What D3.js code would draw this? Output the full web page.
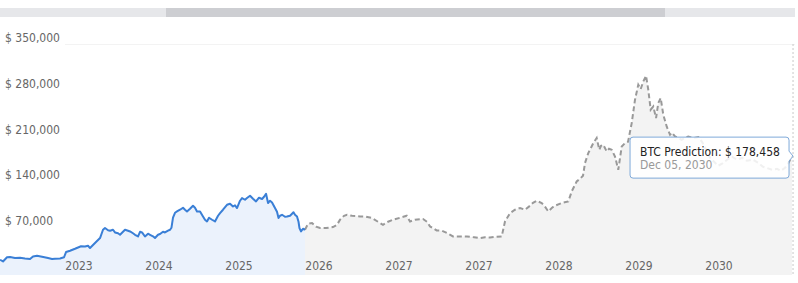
<!DOCTYPE html>
<html>
<head>
<meta charset="utf-8">
<script src="https://cdn.jsdelivr.net/npm/d3@7"></script>
<style>
  html, body { margin: 0; padding: 0; background: #fff; }
  svg { display: block; font-family: Tahoma, "DejaVu Sans Condensed", "DejaVu Sans", sans-serif; font-stretch: condensed; }
</style>
</head>
<body>
<svg id="chart" width="798" height="283"></svg>
<script>
// price history (decimal year, USD)
var histYears = [
  2022.013, 2022.050, 2022.100, 2022.138, 2022.200, 2022.263, 2022.325, 2022.388, 2022.425, 2022.475,
  2022.538, 2022.613, 2022.663, 2022.700, 2022.763, 2022.813, 2022.838, 2022.888, 2022.950, 2022.988,
  2023.025, 2023.075, 2023.113, 2023.138, 2023.200, 2023.263, 2023.300, 2023.325, 2023.363, 2023.388,
  2023.425, 2023.450, 2023.488, 2023.513, 2023.550, 2023.575, 2023.613, 2023.638, 2023.675, 2023.700,
  2023.738, 2023.763, 2023.788, 2023.825, 2023.863, 2023.888, 2023.925, 2023.950, 2023.988, 2024.013,
  2024.050, 2024.075, 2024.113, 2024.138, 2024.156, 2024.175, 2024.200, 2024.225, 2024.263, 2024.300,
  2024.325, 2024.350, 2024.388, 2024.425, 2024.450, 2024.475, 2024.513, 2024.550, 2024.575, 2024.600,
  2024.625, 2024.663, 2024.700, 2024.738, 2024.763, 2024.800, 2024.850, 2024.888, 2024.925, 2024.950,
  2024.975, 2025.013, 2025.038, 2025.075, 2025.100, 2025.138, 2025.175, 2025.213, 2025.250, 2025.288,
  2025.313, 2025.338, 2025.363, 2025.388, 2025.413, 2025.450, 2025.475, 2025.494, 2025.513, 2025.538,
  2025.575, 2025.600, 2025.638, 2025.663, 2025.681, 2025.700, 2025.725, 2025.744, 2025.756, 2025.775,
  2025.800, 2025.825
]
var histPrices = [
  19900, 17300, 23700, 24000, 22500, 23000, 21900, 21000, 24900, 26000,
  24500, 22500, 21100, 21400, 21900, 23700, 31700, 33700, 36700, 38700,
  40500, 40200, 41300, 37800, 45400, 53100, 65800, 68400, 65000, 64300,
  65800, 61700, 60400, 58100, 62700, 65800, 64300, 63200, 60400, 58100,
  55500, 62700, 61700, 55500, 59700, 58100, 55800, 53100, 58100, 59200,
  62700, 61700, 64300, 65800, 68900, 84200, 91800, 93800, 96400, 99500,
  96400, 93800, 97900, 102500, 99500, 93800, 93800, 86100, 81100, 78500,
  84200, 81100, 78500, 87200, 91300, 96400, 104000, 105600, 101400, 103300,
  99000, 110200, 114300, 111700, 114300, 117800, 113200, 109100, 114800, 112800,
  116300, 120900, 106600, 110200, 107600, 99000, 93300, 83700, 87200, 88700,
  85700, 86100, 87200, 90300, 92600, 88700, 86100, 78000, 68400, 63200,
  67300, 65800
]

// prediction (decimal year, USD)
var predYears = [
  2025.825, 2025.863, 2025.913, 2025.963, 2026.013, 2026.088, 2026.175, 2026.225, 2026.263, 2026.313,
  2026.350, 2026.413, 2026.513, 2026.588, 2026.663, 2026.738, 2026.800, 2026.863, 2026.925, 2027.013,
  2027.096, 2027.138, 2027.200, 2027.300, 2027.350, 2027.388, 2027.471, 2027.538, 2027.600, 2027.675,
  2027.763, 2027.850, 2027.938, 2028.013, 2028.075, 2028.138, 2028.213, 2028.284, 2028.325, 2028.388,
  2028.450, 2028.513, 2028.575, 2028.638, 2028.675, 2028.721, 2028.784, 2028.825, 2028.866, 2028.913,
  2028.950, 2029.034, 2029.116, 2029.159, 2029.221, 2029.263, 2029.300, 2029.325, 2029.366, 2029.400,
  2029.429, 2029.471, 2029.504, 2029.525, 2029.554, 2029.596, 2029.625, 2029.659, 2029.700, 2029.741,
  2029.784, 2029.825, 2029.863, 2029.909, 2029.950, 2029.991, 2030.021, 2030.054, 2030.088, 2030.116,
  2030.146, 2030.179, 2030.213, 2030.241, 2030.271, 2030.304, 2030.346, 2030.388, 2030.413, 2030.450,
  2030.488, 2030.534, 2030.575, 2030.616, 2030.679, 2030.741, 2030.788, 2030.838, 2030.888, 2030.938,
  2030.988, 2031.038, 2031.100, 2031.163, 2031.225, 2031.288, 2031.350, 2031.425, 2031.488, 2031.550,
  2031.600, 2031.663, 2031.725, 2031.775, 2031.825, 2031.863, 2031.913
]
var predPrices = [
  65800, 75000, 76000, 70400, 68400, 68400, 69900, 73400, 81100, 87200,
  88700, 87200, 86100, 85700, 83700, 78000, 73400, 78000, 81100, 84200,
  87200, 78500, 81100, 82200, 78000, 70800, 64700, 64300, 60700, 55500,
  55500, 55500, 54300, 53100, 54300, 54000, 55100, 55500, 78500, 91300,
  96400, 99000, 96400, 102500, 107100, 110200, 106600, 101000, 93800, 99500,
  102500, 106600, 109100, 124400, 139700, 143800, 148400, 167800, 183100, 191300,
  198400, 206100, 188200, 194300, 195800, 185600, 189700, 188200, 177900, 157600,
  193200, 198400, 200400, 229000, 264700, 287600, 281000, 292700, 301400, 280000,
  249400, 254400, 236700, 259600, 267300, 241700, 223800, 211100, 214200, 208500,
  206500, 203500, 206500, 208500, 206100, 207600, 200400, 188200, 176000, 169800,
  163700, 166800, 172900, 177500, 172900, 176000, 171400, 172900, 168300, 162200,
  160200, 157600, 159100, 156100, 160700, 166800, 178458
]

var yTicks = [70000, 140000, 210000, 280000, 350000]
var xTicks = [2023, 2024, 2025, 2026, 2027, 2028, 2029, 2030, 2031]
var xTickLabels = ['2023', '2024', '2025', '2026', '2027', '2027', '2028', '2029', '2030']

var tipSeries = 'BTC Prediction'
var tipDate = 'Dec 05, 2030'

const plotTop = 44
const plotBottom = 275

var svg = d3.select('#chart')

var x = d3.scaleLinear().domain([2022, 2032]).range([-1, 799])
var y = d3.scaleLinear().domain([0, 350000]).range([272.75, plotTop])

var hist = histYears.map((t, i) => [t, histPrices[i]])
var pred = predYears.map((t, i) => [t, predPrices[i]])

// navigator scrollbar
svg.append('rect').attr('x', 0).attr('y', 8).attr('width', 795).attr('height', 9).attr('fill', '#e6e7ea')
svg.append('rect').attr('x', 166).attr('y', 8).attr('width', 499).attr('height', 9).attr('fill', '#cdced2')

// top grid line
svg.append('line')
   .attr('x1', 65).attr('x2', 795)
   .attr('y1', y(350000) + 0.5).attr('y2', y(350000) + 0.5)
   .attr('stroke', '#f3f3f3')

var area = d3.area()
  .x(d => x(d[0]))
  .y0(plotBottom)
  .y1(d => y(d[1]))

var line = d3.line()
  .x(d => x(d[0]))
  .y(d => y(d[1]))

svg.append('path').datum(hist).attr('d', area).attr('fill', '#ebf2fc')
svg.append('path').datum(pred).attr('d', area).attr('fill', '#f3f3f3')

// y labels
svg.append('g')
   .selectAll('text')
   .data(yTicks)
   .enter().append('text')
   .attr('x', 5)
   .attr('y', d => y(d) - 2)
   .attr('font-size', 12)
   .attr('fill', '#666')
   .text(d => '$ ' + d3.format(',')(d))

// x labels
svg.append('g')
   .selectAll('text')
   .data(xTicks)
   .enter().append('text')
   .attr('x', d => x(d))
   .attr('y', 270)
   .attr('text-anchor', 'middle')
   .attr('font-size', 12)
   .attr('fill', '#666')
   .text((d, i) => xTickLabels[i])

svg.append('path').datum(pred).attr('d', line)
   .attr('fill', 'none')
   .attr('stroke', '#999')
   .attr('stroke-width', 2)
   .attr('stroke-dasharray', '5,3')

svg.append('path').datum(hist).attr('d', line)
   .attr('fill', 'none')
   .attr('stroke', '#3a7fd6')
   .attr('stroke-width', 2)
   .attr('stroke-linejoin', 'round')

// crosshair + tooltip at last prediction point
var last = pred[pred.length - 1]
var px = x(last[0])
var py = y(last[1])

svg.append('line')
   .attr('x1', px + 1).attr('x2', px + 1)
   .attr('y1', plotTop).attr('y2', plotBottom)
   .attr('stroke', '#c8c8c8')
   .attr('stroke-dasharray', '2,2')

var r = px - 3
var l = r - 159
var t = py - 19
var b = py + 22
var tip = svg.append('g')
tip.append('path')
   .attr('d', 'M' + (l + 3) + ',' + t + ' H' + (r - 3) + ' Q' + r + ',' + t + ' ' + r + ',' + (t + 3) +
        ' V' + (py - 5) + ' L' + (px + 1) + ',' + py + ' L' + r + ',' + (py + 5) +
        ' V' + (b - 3) + ' Q' + r + ',' + b + ' ' + (r - 3) + ',' + b +
        ' H' + (l + 3) + ' Q' + l + ',' + b + ' ' + l + ',' + (b - 3) +
        ' V' + (t + 3) + ' Q' + l + ',' + t + ' ' + (l + 3) + ',' + t + ' Z')
   .attr('fill', 'rgba(255,255,255,0.85)')
   .attr('stroke', '#7fa9d9')
   .attr('stroke-width', 1)

tip.append('text')
   .attr('x', l + 10).attr('y', t + 18.5)
   .attr('font-size', 12)
   .attr('fill', '#222')
   .text(tipSeries + ': $ ' + d3.format(',')(last[1]))

tip.append('text')
   .attr('x', l + 10).attr('y', t + 32)
   .attr('font-size', 12)
   .attr('fill', '#999')
   .text(tipDate)
</script>
</body>
</html>
